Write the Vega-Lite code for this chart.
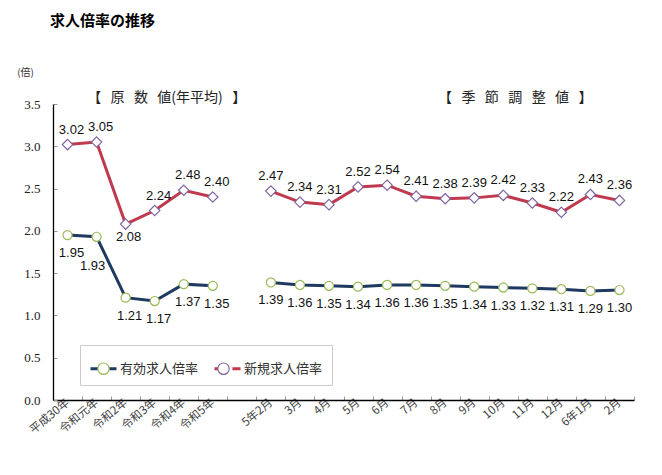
{
  "$schema": "https://vega.github.io/schema/vega-lite/v6.json",
  "width": 581,
  "height": 296,
  "autosize": {"type": "none"},
  "padding": {"left": 53, "top": 104, "right": 28, "bottom": 75},
  "background": "white",
  "title": {"text": "求人倍率の推移", "anchor": "start", "frame": "group", "font": "Noto Sans CJK JP", "fontSize": 15, "fontWeight": "bold", "color": "#000", "offset": 38, "dx": -3},
  "config": {"view": {"stroke": null}},
  "datasets": {
    "rates": [
      {"x": "平成30年", "series": "有効求人倍率", "group": "年平均", "value": 1.95},
      {"x": "令和元年", "series": "有効求人倍率", "group": "年平均", "value": 1.93},
      {"x": "令和2年", "series": "有効求人倍率", "group": "年平均", "value": 1.21},
      {"x": "令和3年", "series": "有効求人倍率", "group": "年平均", "value": 1.17},
      {"x": "令和4年", "series": "有効求人倍率", "group": "年平均", "value": 1.37},
      {"x": "令和5年", "series": "有効求人倍率", "group": "年平均", "value": 1.35},
      {"x": "5年2月", "series": "有効求人倍率", "group": "月次", "value": 1.39},
      {"x": "3月", "series": "有効求人倍率", "group": "月次", "value": 1.36},
      {"x": "4月", "series": "有効求人倍率", "group": "月次", "value": 1.35},
      {"x": "5月", "series": "有効求人倍率", "group": "月次", "value": 1.34},
      {"x": "6月", "series": "有効求人倍率", "group": "月次", "value": 1.36},
      {"x": "7月", "series": "有効求人倍率", "group": "月次", "value": 1.36},
      {"x": "8月", "series": "有効求人倍率", "group": "月次", "value": 1.35},
      {"x": "9月", "series": "有効求人倍率", "group": "月次", "value": 1.34},
      {"x": "10月", "series": "有効求人倍率", "group": "月次", "value": 1.33},
      {"x": "11月", "series": "有効求人倍率", "group": "月次", "value": 1.32},
      {"x": "12月", "series": "有効求人倍率", "group": "月次", "value": 1.31},
      {"x": "6年1月", "series": "有効求人倍率", "group": "月次", "value": 1.29},
      {"x": "2月", "series": "有効求人倍率", "group": "月次", "value": 1.30},
      {"x": "平成30年", "series": "新規求人倍率", "group": "年平均", "value": 3.02},
      {"x": "令和元年", "series": "新規求人倍率", "group": "年平均", "value": 3.05},
      {"x": "令和2年", "series": "新規求人倍率", "group": "年平均", "value": 2.08},
      {"x": "令和3年", "series": "新規求人倍率", "group": "年平均", "value": 2.24},
      {"x": "令和4年", "series": "新規求人倍率", "group": "年平均", "value": 2.48},
      {"x": "令和5年", "series": "新規求人倍率", "group": "年平均", "value": 2.40},
      {"x": "5年2月", "series": "新規求人倍率", "group": "月次", "value": 2.47},
      {"x": "3月", "series": "新規求人倍率", "group": "月次", "value": 2.34},
      {"x": "4月", "series": "新規求人倍率", "group": "月次", "value": 2.31},
      {"x": "5月", "series": "新規求人倍率", "group": "月次", "value": 2.52},
      {"x": "6月", "series": "新規求人倍率", "group": "月次", "value": 2.54},
      {"x": "7月", "series": "新規求人倍率", "group": "月次", "value": 2.41},
      {"x": "8月", "series": "新規求人倍率", "group": "月次", "value": 2.38},
      {"x": "9月", "series": "新規求人倍率", "group": "月次", "value": 2.39},
      {"x": "10月", "series": "新規求人倍率", "group": "月次", "value": 2.42},
      {"x": "11月", "series": "新規求人倍率", "group": "月次", "value": 2.33},
      {"x": "12月", "series": "新規求人倍率", "group": "月次", "value": 2.22},
      {"x": "6年1月", "series": "新規求人倍率", "group": "月次", "value": 2.43},
      {"x": "2月", "series": "新規求人倍率", "group": "月次", "value": 2.36}
    ],
    "sections": [
      {"x": "令和3年", "value": 3.5, "label": "【\u00a0\u00a0\u00a0原\u00a0\u00a0\u00a0数\u00a0\u00a0\u00a0値(年平均)\u00a0\u00a0\u00a0】"},
      {"x": "10月", "value": 3.5, "label": "【\u00a0\u00a0\u00a0季\u00a0\u00a0\u00a0節\u00a0\u00a0\u00a0調\u00a0\u00a0\u00a0整\u00a0\u00a0\u00a0値\u00a0\u00a0\u00a0】"}
    ]
  },
  "data": {"name": "rates"},
  "encoding": {
    "x": {
      "field": "x", "type": "nominal",
      "scale": {"type": "band", "paddingInner": 0, "paddingOuter": 0,
        "domain": ["平成30年","令和元年","令和2年","令和3年","令和4年","令和5年"," ","5年2月","3月","4月","5月","6月","7月","8月","9月","10月","11月","12月","6年1月","2月"]},
      "axis": {"title": null, "labelAngle": -40, "labelAlign": "right", "labelBaseline": "middle", "labelPadding": 5, "labelFont": "Noto Sans CJK JP", "labelFontSize": 11.5, "labelColor": "#444", "tickBand": "extent", "tickSize": -4, "tickColor": "#999", "domainColor": "#000", "domainWidth": 1.3, "grid": false, "labelOverlap": false}
    },
    "y": {
      "field": "value", "type": "quantitative",
      "scale": {"domain": [0, 3.5], "nice": false},
      "axis": {"title": "(倍)", "titleAngle": 0, "titleX": -28, "titleY": -32, "titleAlign": "center", "titleBaseline": "middle", "titleFont": "Noto Sans CJK JP", "titleFontSize": 10, "titleFontWeight": "normal", "titleColor": "#333", "values": [0, 0.5, 1, 1.5, 2, 2.5, 3, 3.5], "format": ".1f", "labelFont": "Liberation Serif", "labelFontSize": 13, "labelColor": "#222", "labelPadding": 17, "tickSize": -4, "tickColor": "#999", "domainColor": "#000", "domainWidth": 1.3, "grid": false}
    }
  },
  "layer": [
    {
      "mark": {"type": "line", "strokeWidth": 3},
      "encoding": {
        "detail": {"field": "group"},
        "color": {"field": "series", "type": "nominal",
          "scale": {"domain": ["有効求人倍率", "新規求人倍率"], "range": ["#1f3a60", "#c0394e"]},
          "legend": {"title": null, "orient": "none", "legendX": 27, "legendY": 241, "direction": "horizontal", "symbolType": "M-1,0H-0.38M0.38,0H1", "symbolSize": 676, "symbolStrokeWidth": 3, "symbolFillColor": "transparent", "labelFont": "Noto Sans CJK JP", "labelFontSize": 13, "labelColor": "#333", "labelOffset": 2, "columnPadding": 9, "padding": 9, "strokeColor": "#ccc", "fillColor": "white"}
        }
      }
    },
    {
      "mark": {"type": "point", "size": 676, "fill": "white", "filled": false, "opacity": 1, "strokeWidth": 1.2},
      "encoding": {
        "stroke": {"field": "series", "type": "nominal", "sort": ["有効求人倍率", "新規求人倍率"],
          "scale": {"range": ["#9bbb59", "#8064a2"]},
          "legend": {"title": null, "orient": "none", "legendX": 27, "legendY": 241, "direction": "horizontal", "symbolSize": 130, "symbolStrokeWidth": 1.2, "symbolFillColor": "white", "labelFont": "Noto Sans CJK JP", "labelFontSize": 13, "labelExpr": "''", "labelOffset": 18, "columnPadding": 87, "padding": 17}
        },
        "shape": {"field": "series", "type": "nominal", "sort": ["有効求人倍率", "新規求人倍率"],
          "scale": {"range": ["M-0.35,0A0.35,0.35 0 1,0 0.35,0A0.35,0.35 0 1,0 -0.35,0Z", "M0,-0.4L0.4,0L0,0.4L-0.4,0Z"]},
          "legend": {"title": null, "orient": "none", "legendX": 27, "legendY": 241, "direction": "horizontal", "symbolSize": 130, "symbolStrokeWidth": 1.2, "symbolFillColor": "white", "labelFont": "Noto Sans CJK JP", "labelFontSize": 13, "labelExpr": "''", "labelOffset": 18, "columnPadding": 87, "padding": 17}
        }
      }
    },
    {
      "transform": [{"filter": "datum.series == '新規求人倍率' && datum.group == '月次'"}],
      "mark": {"type": "text", "dy": -15, "font": "Liberation Sans", "fontSize": 13, "color": "#111"},
      "encoding": {"text": {"field": "value", "type": "quantitative", "format": ".2f"}}
    },
    {
      "transform": [{"filter": "datum.series == '新規求人倍率' && datum.group == '年平均' && datum.x != '令和2年'"}],
      "mark": {"type": "text", "dy": -15, "dx": 4, "font": "Liberation Sans", "fontSize": 13, "color": "#111"},
      "encoding": {"text": {"field": "value", "type": "quantitative", "format": ".2f"}}
    },
    {
      "transform": [{"filter": "datum.series == '新規求人倍率' && datum.x == '令和2年'"}],
      "mark": {"type": "text", "dy": 13, "dx": 3, "font": "Liberation Sans", "fontSize": 13, "color": "#111"},
      "encoding": {"text": {"field": "value", "type": "quantitative", "format": ".2f"}}
    },
    {
      "transform": [{"filter": "datum.series == '有効求人倍率' && datum.group == '月次'"}],
      "mark": {"type": "text", "dy": 18, "font": "Liberation Sans", "fontSize": 13, "color": "#111"},
      "encoding": {"text": {"field": "value", "type": "quantitative", "format": ".2f"}}
    },
    {
      "transform": [{"filter": "datum.series == '有効求人倍率' && datum.group == '年平均' && datum.x != '令和元年'"}],
      "mark": {"type": "text", "dy": 18, "dx": 4, "font": "Liberation Sans", "fontSize": 13, "color": "#111"},
      "encoding": {"text": {"field": "value", "type": "quantitative", "format": ".2f"}}
    },
    {
      "transform": [{"filter": "datum.series == '有効求人倍率' && datum.x == '令和元年'"}],
      "mark": {"type": "text", "dy": 29, "dx": -4, "font": "Liberation Sans", "fontSize": 13, "color": "#111"},
      "encoding": {"text": {"field": "value", "type": "quantitative", "format": ".2f"}}
    },
    {
      "data": {"name": "sections"},
      "mark": {"type": "text", "dy": -6, "dx": 12, "font": "Noto Sans CJK JP", "fontSize": 14, "color": "#222"},
      "encoding": {"text": {"field": "label"}}
    }
  ]
}
